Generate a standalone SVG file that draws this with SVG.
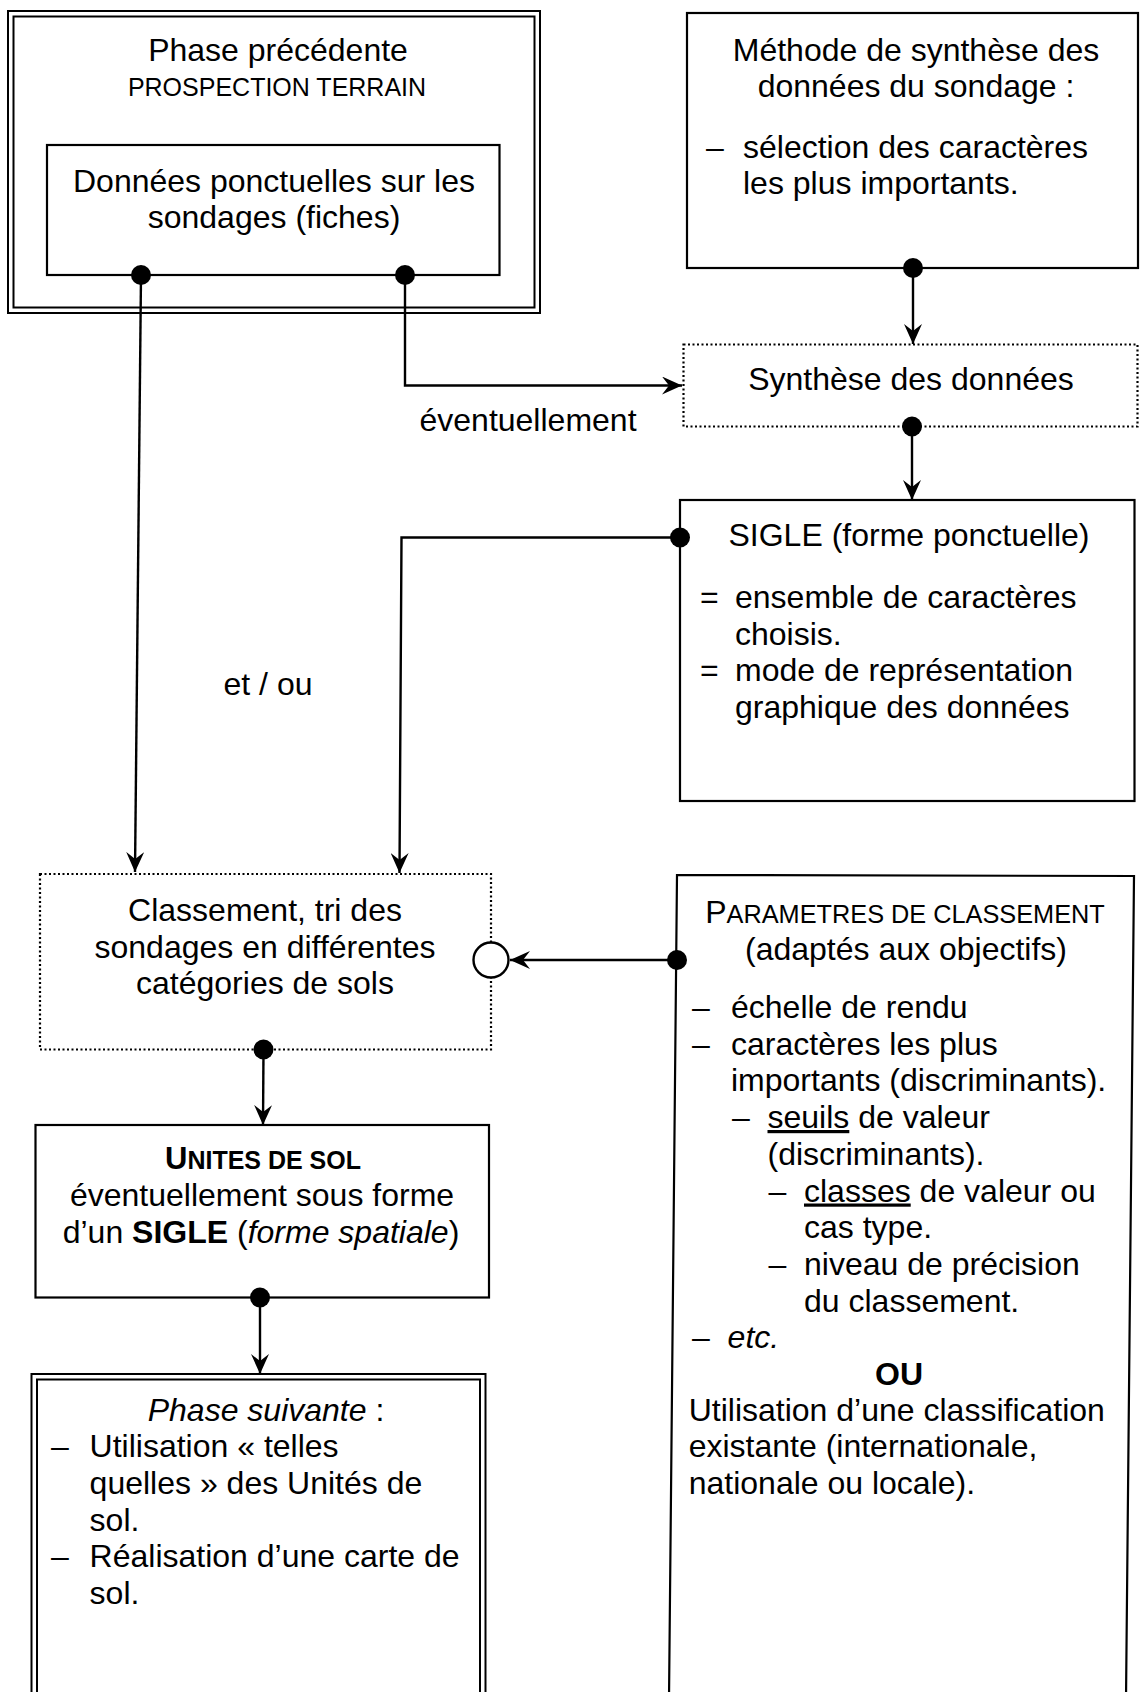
<svg xmlns="http://www.w3.org/2000/svg" width="1140" height="1692" viewBox="0 0 1140 1692">
<defs>
<marker id="arr" viewBox="0 0 20 18" refX="20" refY="9" markerWidth="20" markerHeight="18" markerUnits="userSpaceOnUse" orient="auto">
<path d="M0,0 L20,9 L0,18 L7,9 z" fill="#000"/>
</marker>
<style>
text{font-family:"Liberation Sans",Arial,Helvetica,sans-serif;font-size:32px;fill:#000}
.c{text-anchor:middle}
.s25{font-size:25px}
.box{fill:#fff;stroke:#000;stroke-width:2.2}
.dbl{fill:none;stroke:#000;stroke-width:2}
.dotted{fill:#fff;stroke:#000;stroke-width:2.2;stroke-dasharray:2 2.5}
.ln{fill:none;stroke:#000;stroke-width:2.4}
.pt{fill:#000}
.u{text-decoration:underline}
</style>
</defs>
<rect width="1140" height="1692" fill="#fff"/>

<g id="phase-precedente">
<rect x="8" y="11" width="532" height="302" class="dbl" fill="#fff"/>
<rect x="13.5" y="16.5" width="521" height="291" class="dbl"/>
<text class="c" x="278" y="61">Phase précédente</text>
<text class="c s25" x="277" y="96">PROSPECTION TERRAIN</text>
</g>

<g id="donnees">
<rect x="47" y="145" width="452.5" height="130" class="box"/>
<text class="c" x="274" y="192">Données ponctuelles sur les</text>
<text class="c" x="274" y="228">sondages (fiches)</text>
</g>

<g id="methode">
<rect x="687" y="13" width="451" height="255" class="box"/>
<text class="c" x="916" y="60.5">Méthode de synthèse des</text>
<text class="c" x="916" y="97">données du sondage :</text>
<text x="706" y="157.6">–</text>
<text x="743" y="157.6">sélection des caractères</text>
<text x="743" y="194.3">les plus importants.</text>
</g>

<g id="synthese">
<rect x="683.5" y="344.5" width="454" height="82" class="dotted"/>
<text class="c" x="911" y="389.5">Synthèse des données</text>
</g>

<g id="sigle">
<rect x="680" y="500" width="454.5" height="301" class="box"/>
<text class="c" x="909" y="546">SIGLE (forme ponctuelle)</text>
<text x="700" y="608">=</text>
<text x="735" y="608">ensemble de caractères</text>
<text x="735" y="644.5">choisis.</text>
<text x="700" y="681">=</text>
<text x="735" y="681">mode de représentation</text>
<text x="735" y="718">graphique des données</text>
</g>

<g id="classement">
<rect x="40" y="874" width="451" height="175.5" class="dotted"/>
<text class="c" x="265" y="921">Classement, tri des</text>
<text class="c" x="265" y="957.5">sondages en différentes</text>
<text class="c" x="265" y="994">catégories de sols</text>
</g>

<g id="parametres">
<path d="M669,1700 L677,875 L1134,876 L1126,1700" class="box"/>
<text class="c" x="905" y="923"><tspan font-size="32">P</tspan><tspan font-size="25.3">ARAMETRES DE CLASSEMENT</tspan></text>
<text class="c" x="906" y="959.7">(adaptés aux objectifs)</text>
<text x="692" y="1018">–</text>
<text x="731" y="1018">échelle de rendu</text>
<text x="692" y="1054.7">–</text>
<text x="731" y="1054.7">caractères les plus</text>
<text x="731" y="1091.4">importants (discriminants).</text>
<text x="732" y="1128">–</text>
<text x="767.5" y="1128"><tspan class="u">seuils</tspan> de valeur</text>
<text x="767.5" y="1164.8">(discriminants).</text>
<text x="768.5" y="1201.5">–</text>
<text x="804" y="1201.5"><tspan class="u">classes</tspan> de valeur ou</text>
<text x="804" y="1238">cas type.</text>
<text x="768.5" y="1275">–</text>
<text x="804" y="1275">niveau de précision</text>
<text x="804" y="1311.6">du classement.</text>
<text x="692" y="1348">–</text>
<text x="727.6" y="1348" font-style="italic">etc.</text>
<text class="c" x="899" y="1385" font-weight="bold">OU</text>
<text x="688.7" y="1420.6">Utilisation d’une classification</text>
<text x="688.7" y="1457">existante (internationale,</text>
<text x="688.7" y="1494">nationale ou locale).</text>
</g>

<g id="unites">
<rect x="35.5" y="1125" width="453.5" height="172.5" class="box"/>
<text class="c" x="263" y="1169" font-weight="bold"><tspan font-size="31">U</tspan><tspan font-size="25">NITES DE SOL</tspan></text>
<text class="c" x="262" y="1206">éventuellement sous forme</text>
<text class="c" x="261" y="1242.5">d’un <tspan font-weight="bold">SIGLE</tspan> (<tspan font-style="italic">forme spatiale</tspan>)</text>
</g>

<g id="phase-suivante">
<rect x="31.5" y="1374" width="454" height="340" class="dbl" fill="#fff"/>
<rect x="37" y="1379.5" width="443" height="340" class="dbl"/>
<text class="c" x="266" y="1420.6"><tspan font-style="italic">Phase suivante</tspan> :</text>
<text x="51" y="1457">–</text>
<text x="89.6" y="1457">Utilisation « telles</text>
<text x="89.6" y="1494">quelles » des Unités de</text>
<text x="89.6" y="1530.7">sol.</text>
<text x="51" y="1567.4">–</text>
<text x="89.6" y="1567.4">Réalisation d’une carte de</text>
<text x="89.6" y="1604">sol.</text>
</g>

<g id="connectors">
<g class="ln">
<path d="M141,275 L135,872" marker-end="url(#arr)"/>
<path d="M405,275 L405,385.5 L682,385.5" marker-end="url(#arr)"/>
<path d="M913,268 L913,344" marker-end="url(#arr)"/>
<path d="M912,426.5 L912,500" marker-end="url(#arr)"/>
<path d="M680,537.5 L401.5,537.5 L399.5,873" marker-end="url(#arr)"/>
<path d="M677,960 L510,960" marker-end="url(#arr)"/>
<path d="M263.5,1049.5 L263,1125" marker-end="url(#arr)"/>
<path d="M260,1297.5 L260,1374" marker-end="url(#arr)"/>
</g>
<circle cx="491" cy="960" r="17.5" fill="#fff" stroke="#000" stroke-width="2.4"/>
<circle class="pt" cx="141" cy="275" r="10"/>
<circle class="pt" cx="405" cy="275" r="10"/>
<circle class="pt" cx="913" cy="268" r="10"/>
<circle class="pt" cx="912" cy="426.5" r="10"/>
<circle class="pt" cx="680" cy="537.5" r="10"/>
<circle class="pt" cx="677" cy="960" r="10"/>
<circle class="pt" cx="263.5" cy="1049.5" r="10"/>
<circle class="pt" cx="260" cy="1297.5" r="10"/>
<text class="c" x="528" y="430.7">éventuellement</text>
<text class="c" x="268" y="695">et / ou</text>
</g>
</svg>
